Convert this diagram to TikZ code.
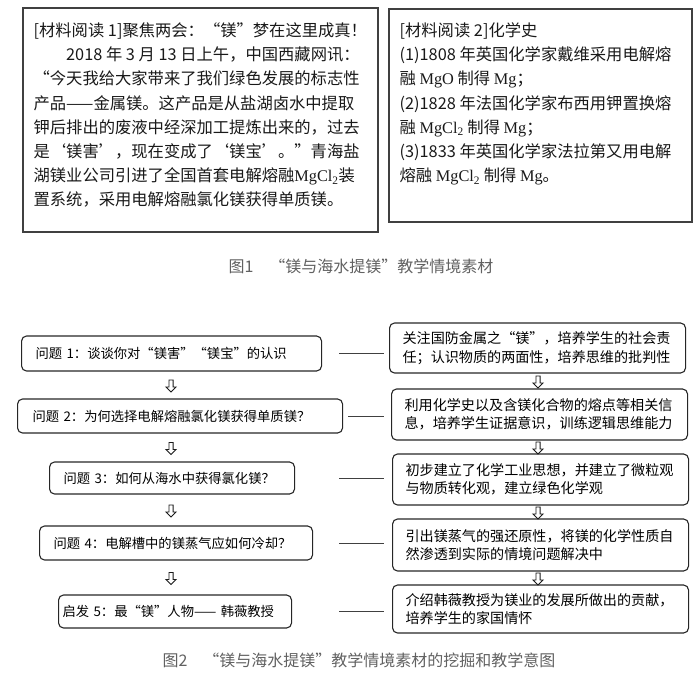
\documentclass[tikz,border=0pt]{standalone}
\usepackage{fontspec}
\setmainfont{Noto Sans CJK SC}
\newfontfamily\tnr{Liberation Serif}
\usetikzlibrary{calc,shapes.arrows}

% 化学式用的字体
\newcommand{\chemf}[1]{{\tnr #1}}

\begin{document}
\begin{tikzpicture}[x=1pt,y=-1pt,
    frame/.style={draw=black!75, line width=1.2pt, inner sep=0pt},
    mattext/.style={anchor=north west, align=left, inner sep=0pt,
        font=\fontsize{16.3}{24.2}\selectfont, text=black!90},
    qbox/.style={draw=black!85, line width=1.1pt, rounded corners=5pt,
        anchor=west, align=left, inner ysep=0pt,
        font=\fontsize{13.3}{18}\selectfont},
    rbox/.style={qbox, inner xsep=13pt, text width=270pt,
        font=\fontsize{14.1}{18.5}\selectfont},
    down/.style={single arrow, draw=black!90, line width=0.9pt, fill=white,
        shape border rotate=270, inner sep=1.6pt, minimum height=12pt,
        single arrow head extend=3pt, single arrow tip angle=90},
    link/.style={draw=black!75, line width=0.9pt},
    caption/.style={text=black!62, font=\fontsize{16}{18}\selectfont}]

    \useasboundingbox (0,0) rectangle (700,680);

    % 图1：两个材料框
    \node[frame, minimum width=355pt, minimum height=224pt] (mat1) at (200.5,120) {};
    \node[mattext] (mat1txt) at ([xshift=11pt,yshift=-15pt]mat1.north west)
        {[材料阅读 1]聚焦两会：“镁”梦在这里成真！\\
         \hspace*{2em}2018 年 3 月 13 日上午，中国西藏网讯：\\
         “今天我给大家带来了我们绿色发展的标志性\\
         产品——金属镁。这产品是从盐湖卤水中提取\\
         钾后排出的废液中经深加工提炼出来的，过去\\
         是‘镁害’，现在变成了‘镁宝’。”青海盐\\
         湖镁业公司引进了全国首套电解熔融\chemf{MgCl\textsubscript{2}}装\\
         置系统，采用电解熔融氯化镁获得单质镁。};

    \node[frame, minimum width=303pt, minimum height=213pt] (mat2) at (540.5,115.5) {};
    \node[mattext] (mat2txt) at ([xshift=11pt,yshift=-14pt]mat2.north west)
        {[材料阅读 2]化学史\\
         (1)1808 年英国化学家戴维采用电解熔\\
         融 \chemf{MgO} 制得 \chemf{Mg}；\\
         (2)1828 年法国化学家布西用钾置换熔\\
         融 \chemf{MgCl\textsubscript{2}} 制得 \chemf{Mg}；\\
         (3)1833 年英国化学家法拉第又用电解\\
         熔融 \chemf{MgCl\textsubscript{2}} 制得 \chemf{Mg}。};

    \node[caption] (cap1) at (361,266) {图1\quad “镁与海水提镁”教学情境素材};

    % 图2：左列问题
    \node[qbox, minimum height=35pt, inner xsep=14pt, text width=272pt] (q1) at (21,353.5)
        {问题~1：谈谈你对“镁害”“镁宝”的认识};
    \node[qbox, minimum height=34pt, inner xsep=15pt, text width=295pt] (q2) at (17,416)
        {问题~2：为何选择电解熔融氯化镁获得单质镁？};
    \node[qbox, minimum height=32pt, inner xsep=14pt, text width=217pt] (q3) at (49,478)
        {问题~3：如何从海水中获得氯化镁？};
    \node[qbox, minimum height=34pt, inner xsep=14pt, text width=245pt] (q4) at (39,543)
        {问题~4：电解槽中的镁蒸气应如何冷却？};
    \node[qbox, minimum height=33pt, inner xsep=4pt, text width=225pt] (q5) at (58,611.5)
        {启发~5：最“镁”人物——~韩薇教授};

    % 右列意图
    \node[rbox, minimum height=50pt] (r1) at (389,348)
        {关注国防金属之“镁”，培养学生的社会责\\任；认识物质的两面性，培养思维的批判性};
    \node[rbox, minimum height=51pt] (r2) at (391,414.5)
        {利用化学史以及含镁化合物的熔点等相关信\\息，培养学生证据意识，训练逻辑思维能力};
    \node[rbox, minimum height=51pt] (r3) at (392,479.5)
        {初步建立了化学工业思想，并建立了微粒观\\与物质转化观，建立绿色化学观};
    \node[rbox, minimum height=52pt] (r4) at (392,545)
        {引出镁蒸气的强还原性，将镁的化学性质自\\然渗透到实际的情境问题解决中};
    \node[rbox, minimum height=48pt] (r5) at (392,609)
        {介绍韩薇教授为镁业的发展所做出的贡献，\\培养学生的家国情怀};

    % 空心箭头
    \pgfmathsetmacro{\lx}{171}
    \pgfmathsetmacro{\rx}{538}
    \foreach \y in {385,447.5,510,577.5}
        \node[down] at (\lx,\y) {};
    \foreach \y in {381,447,512,578}
        \node[down] at (\rx,\y) {};

    % 左右之间的横线
    \coordinate (lend) at (339,0);
    \coordinate (rend) at (384,0);
    \foreach \i in {1,3,4,5}
        \draw[link] (q\i.east -| lend) -- (q\i.east -| rend);
    \draw[link] ([xshift=5pt]q2.east) -- (q2.east -| rend);

    \node[caption] (cap2) at (359,660) {图2\quad “镁与海水提镁”教学情境素材的挖掘和教学意图};
\end{tikzpicture}
\end{document}
